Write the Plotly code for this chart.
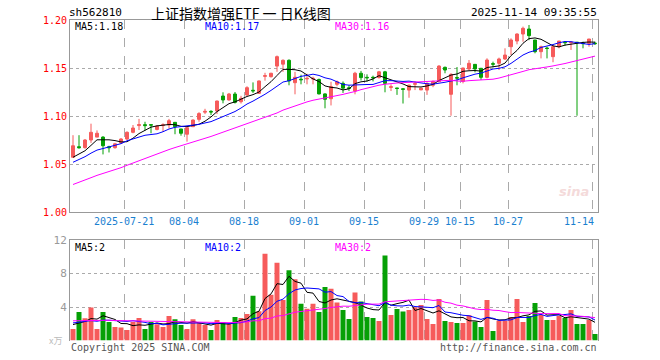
import plotly.graph_objects as go

# ---------------- data ----------------
dates = ["07-08","07-09","07-10","07-11","07-14","07-15","07-16","07-17","07-18",
         "07-21","07-22","07-23","07-24","07-25","07-28","07-29","07-30","07-31",
         "08-01","08-04","08-05","08-06","08-07","08-08","08-11","08-12","08-13","08-14","08-15",
         "08-18","08-19","08-20","08-21","08-22","08-25","08-26","08-27","08-28","08-29",
         "09-01","09-02","09-03","09-04","09-05","09-08","09-09","09-10","09-11","09-12",
         "09-15","09-16","09-17","09-18","09-19","09-22","09-23","09-24","09-25","09-26",
         "09-29","09-30","10-09","10-10","10-13","10-14","10-15","10-16","10-17",
         "10-20","10-21","10-22","10-23","10-24","10-27","10-28","10-29","10-30","10-31",
         "11-03","11-04","11-05","11-06","11-07","11-10","11-11","11-12","11-13","11-14"]

open_ = [1.057,1.068,1.067,1.075,1.078,1.078,1.068,1.067,1.072,1.076,1.083,1.090,1.091,1.091,
         1.086,1.0900,1.0906,1.0934,1.0865,1.081,1.0889,1.0965,1.1040,1.1048,1.1052,1.1208,1.1167,
         1.1229,1.1149,1.1219,1.1268,1.1236,1.1413,1.1410,1.1520,1.1540,1.1580,1.1347,1.1383,1.1386,
         1.1386,1.1380,1.1230,1.1180,1.1330,1.1340,1.1293,1.1260,1.1445,1.1403,1.1403,1.1400,1.1460,
         1.1298,1.1292,1.1283,1.1270,1.1330,1.1272,1.1270,1.1320,1.1357,1.1507,1.1226,1.1400,1.1360,
         1.1490,1.1538,1.1497,1.1403,1.1545,1.1549,1.1594,1.1722,1.1781,1.1854,1.1906,1.1792,1.1670,
         1.1708,1.1618,1.1722,1.1769,1.1764,1.1769,1.1759,1.1757,1.1759]
high = [1.080,1.080,1.076,1.092,1.085,1.079,1.069,1.072,1.077,1.084,1.0906,1.097,1.094,1.091,
        1.0906,1.0924,1.097,1.0934,1.0865,1.0880,1.0965,1.104,1.1075,1.106,1.116,1.1247,1.124,
        1.125,1.121,1.131,1.135,1.137,1.145,1.145,1.163,1.159,1.159,1.146,1.143,1.144,
        1.141,1.139,1.1236,1.1357,1.137,1.136,1.132,1.146,1.147,1.1434,1.142,1.147,1.147,
        1.133,1.1292,1.129,1.133,1.136,1.1292,1.135,1.137,1.153,1.1515,1.1445,1.151,1.1503,
        1.1583,1.1540,1.150,1.1601,1.1566,1.1608,1.1705,1.1809,1.1861,1.1931,1.1948,1.1792,1.1733,
        1.1722,1.1740,1.1781,1.1781,1.1774,1.1769,1.1774,1.1802,1.1774]
low = [1.057,1.066,1.066,1.072,1.078,1.060,1.062,1.066,1.071,1.075,1.082,1.0854,1.085,1.082,
       1.085,1.0836,1.087,1.081,1.0795,1.0733,1.0885,1.094,1.102,1.101,1.102,1.1132,1.116,
       1.113,1.113,1.121,1.124,1.123,1.1368,1.140,1.146,1.146,1.132,1.1226,1.133,1.133,
       1.133,1.1225,1.108,1.111,1.131,1.124,1.126,1.1226,1.137,1.136,1.136,1.139,1.1247,
       1.126,1.122,1.113,1.119,1.127,1.127,1.122,1.130,1.1357,1.1445,1.1003,1.132,1.134,
       1.1479,1.1455,1.1375,1.1392,1.1507,1.1479,1.1583,1.1635,1.1747,1.1774,1.1790,1.1653,1.1600,
       1.1600,1.1560,1.1705,1.1733,1.1688,1.1003,1.1705,1.1722,1.1740]
close = [1.069,1.067,1.075,1.083,1.082,1.069,1.067,1.071,1.076,1.083,1.0875,1.091,1.090,1.0905,
         1.0895,1.0908,1.0951,1.0889,1.082,1.0878,1.0958,1.1025,1.1048,1.1042,1.1156,1.1167,1.1229,
         1.1142,1.1184,1.1295,1.1262,1.1365,1.1420,1.1445,1.1618,1.1580,1.1365,1.1403,1.1378,1.1392,
         1.1392,1.1230,1.1174,1.1306,1.1357,1.1290,1.1288,1.1445,1.1400,1.1398,1.1398,1.1460,1.1340,
         1.1305,1.1287,1.1278,1.1320,1.1337,1.1290,1.1340,1.1360,1.1520,1.1479,1.1434,1.1395,1.1500,
         1.1549,1.1490,1.1403,1.1583,1.1540,1.1594,1.1635,1.1792,1.1854,1.1913,1.1837,1.1670,1.1722,
         1.1703,1.1722,1.1781,1.1764,1.1770,1.1764,1.1754,1.1802,1.1754]
# closes of the 29 sessions before 07-08 (only feed the moving averages)
prior_close = [1.002,1.006,1.004,1.009,1.012,1.008,1.010,1.013,1.008,
               1.015,1.018,1.020,1.019,1.022,1.025,1.024,1.027,1.028,
               1.033,1.038,1.040,1.044,1.046,1.050,1.053,1.052,1.056,1.055,1.053]

volume = [1.38,3.41,2.66,3.93,1.38,3.41,2.22,1.62,1.54,1.26,2.22,2.69,1.38,2.22,1.94,1.62,2.93,2.54,
          1.86,1.38,2.54,2.13,1.86,1.26,2.46,2.22,1.98,2.81,2.69,3.17,5.33,3.50,10.36,5.45,9.28,4.85,
          8.40,7.30,4.40,3.80,4.40,3.40,6.40,6.17,4.53,3.65,2.57,5.72,4.65,2.81,2.69,2.34,10.16,3.05,
          3.77,3.45,3.65,3.97,4.25,2.57,1.98,4.97,2.34,2.22,2.10,2.10,3.02,2.26,1.62,4.85,1.14,2.37,
          2.37,2.81,4.97,2.22,2.93,4.49,3.05,2.46,2.46,2.93,2.69,3.65,1.98,1.98,2.46,0.78]
prior_volume = [2.8,2.2,3.1,2.5,1.9,2.4,2.7,2.0,2.6,3.0,2.3,2.1,2.9,2.4,2.2,2.6,2.5,2.0,2.8,2.48,
                2.6,2.2,2.5,2.1,2.1,2.3,1.9,2.2,1.72]

date_labels = ["2025-07-21","08-04","08-18","09-01","09-15","09-29","10-15","10-27","11-14"]
label_dates = ["07-21","08-04","08-18","09-01","09-15","09-29","10-15","10-27","11-14"]
price_ticks = [1.00, 1.05, 1.10, 1.15, 1.20]
vol_ticks = [4, 8, 12]
ma_price_text = ["MA5:1.18", "MA10:1.17", "MA30:1.16"]
ma_vol_text = ["MA5:2", "MA10:2", "MA30:2"]

# ---------------- helpers ----------------
W, H = 660, 360
def px(x): return x / W
def py(y): return 1 - y / H

def moving_avg(prior, values, n):
    allv = prior + values
    k = len(prior)
    return [sum(allv[k + i - n + 1:k + i + 1]) / n for i in range(len(values))]

RED = "#f65b5b"
GREEN = "#05a005"
MONO = "DejaVu Sans Mono"
idx = list(range(len(dates)))
grid_x = [dates.index(d) - 0.5 for d in label_dates]

fig = go.Figure()
fig.add_trace(go.Candlestick(
    x=idx, open=open_, high=high, low=low, close=close,
    increasing=dict(line=dict(color=RED, width=1), fillcolor=RED),
    decreasing=dict(line=dict(color=GREEN, width=1), fillcolor=GREEN),
    whiskerwidth=0, xaxis="x", yaxis="y", showlegend=False, hoverinfo="skip"))

for n, col in [(5, "#000000"), (10, "#0000ff"), (30, "#ff00ff")]:
    fig.add_trace(go.Scatter(x=idx, y=moving_avg(prior_close, close, n), mode="lines",
                             line=dict(color=col, width=1), xaxis="x", yaxis="y",
                             showlegend=False, hoverinfo="skip"))

vol_colors = [RED if c > o else GREEN for o, c in zip(open_, close)]
fig.add_trace(go.Bar(x=idx, y=volume, marker=dict(color=vol_colors, line=dict(width=0)),
                     xaxis="x2", yaxis="y2", showlegend=False, hoverinfo="skip"))
for n, col in [(5, "#000000"), (10, "#0000ff"), (30, "#ff00ff")]:
    fig.add_trace(go.Scatter(x=idx, y=moving_avg(prior_volume, volume, n), mode="lines",
                             line=dict(color=col, width=1), xaxis="x2", yaxis="y2",
                             showlegend=False, hoverinfo="skip"))

xdom = [px(70), px(598)]
common_x = dict(domain=xdom, range=[-0.5, len(dates) - 0.5], tickmode="array", tickvals=grid_x,
                showticklabels=False, showgrid=True, gridcolor="#aaaaaa", griddash="dash",
                gridwidth=1, zeroline=False, fixedrange=True, automargin=False,
                rangeslider=dict(visible=False))

annotations = []
def txt(x, y, s, color="#000", size=10, family=MONO, xanchor="left", **kw):
    annotations.append(dict(x=px(x), y=py(y), xref="paper", yref="paper", text=s, showarrow=False,
                            xanchor=xanchor, yanchor="middle",
                            font=dict(color=color, size=size, family=family), **kw))

# titles
txt(67, 13, "sh562810", size=11)
txt(149, 13, "上证指数增强ETF 一 日K线图", size=14, family="Noto Sans CJK SC")
txt(599, 13, "2025-11-14 09:35:55", size=11, xanchor="right")
# MA labels
for s, x, c in zip(ma_price_text, [73, 203, 333], ["#000000", "#0000ff", "#ff00ff"]):
    txt(x, 27, s, color=c, size=10)
for s, x, c in zip(ma_vol_text, [73, 203, 333], ["#000000", "#0000ff", "#ff00ff"]):
    txt(x, 247, s, color=c, size=10)
# date labels
for d, gx in zip(date_labels, grid_x):
    annotations.append(dict(x=gx, y=py(221), xref="x", yref="paper", text=d, showarrow=False,
                            xanchor="right" if d == date_labels[-1] else "center",
                            xshift=4 if d == date_labels[-1] else 0,
                            yanchor="middle", font=dict(color="#1a80d0", size=10, family=MONO)))
# footer
txt(69, 347, "Copyright 2025 SINA.COM", color="#555555", size=10)
txt(599, 347, "http://finance.sina.com.cn", color="#555555", size=10, xanchor="right")
txt(47, 340, "x万", color="#bbbbbb", size=9, family="Noto Sans CJK SC")
# watermark
txt(574, 191, "<i><b>sina</b></i>", color="#f4dada", size=13, family="DejaVu Sans", xanchor="center")

fig.update_layout(
    width=W, height=H, margin=dict(l=0, r=0, t=0, b=0, autoexpand=False),
    paper_bgcolor="white", plot_bgcolor="white", showlegend=False, bargap=0.17,
    xaxis=dict(**common_x, anchor="y", showline=True, linecolor="#999999", mirror=True, linewidth=1),
    yaxis=dict(domain=[py(212), py(20)], range=[1.0, 1.2], tickmode="array", tickvals=price_ticks,
               ticktext=[f"{v:.2f}" for v in price_ticks], tickfont=dict(color="#ff0000", size=10, family=MONO),
               showgrid=True, gridcolor="#aaaaaa", griddash="dot", zeroline=False, automargin=False,
               showline=True, linecolor="#999999", mirror=True, linewidth=1, ticks="", fixedrange=True),
    xaxis2=dict(**common_x, anchor="y2", side="top", showline=True, linecolor="#999999", linewidth=1),
    yaxis2=dict(domain=[py(340.5), py(240)], range=[0, 12], tickmode="array", tickvals=vol_ticks,
                ticktext=[str(v) for v in vol_ticks], tickfont=dict(color="#999999", size=11, family=MONO),
                showgrid=True, gridcolor="#aaaaaa", griddash="dot", zeroline=False, automargin=False,
                showline=True, linecolor="#999999", mirror=True, linewidth=1, ticks="", fixedrange=True),
    annotations=annotations,
)

fig.write_html("out.html", config={"displayModeBar": False},
               post_script="document.body.style.margin='0';document.body.style.overflow='hidden';")
